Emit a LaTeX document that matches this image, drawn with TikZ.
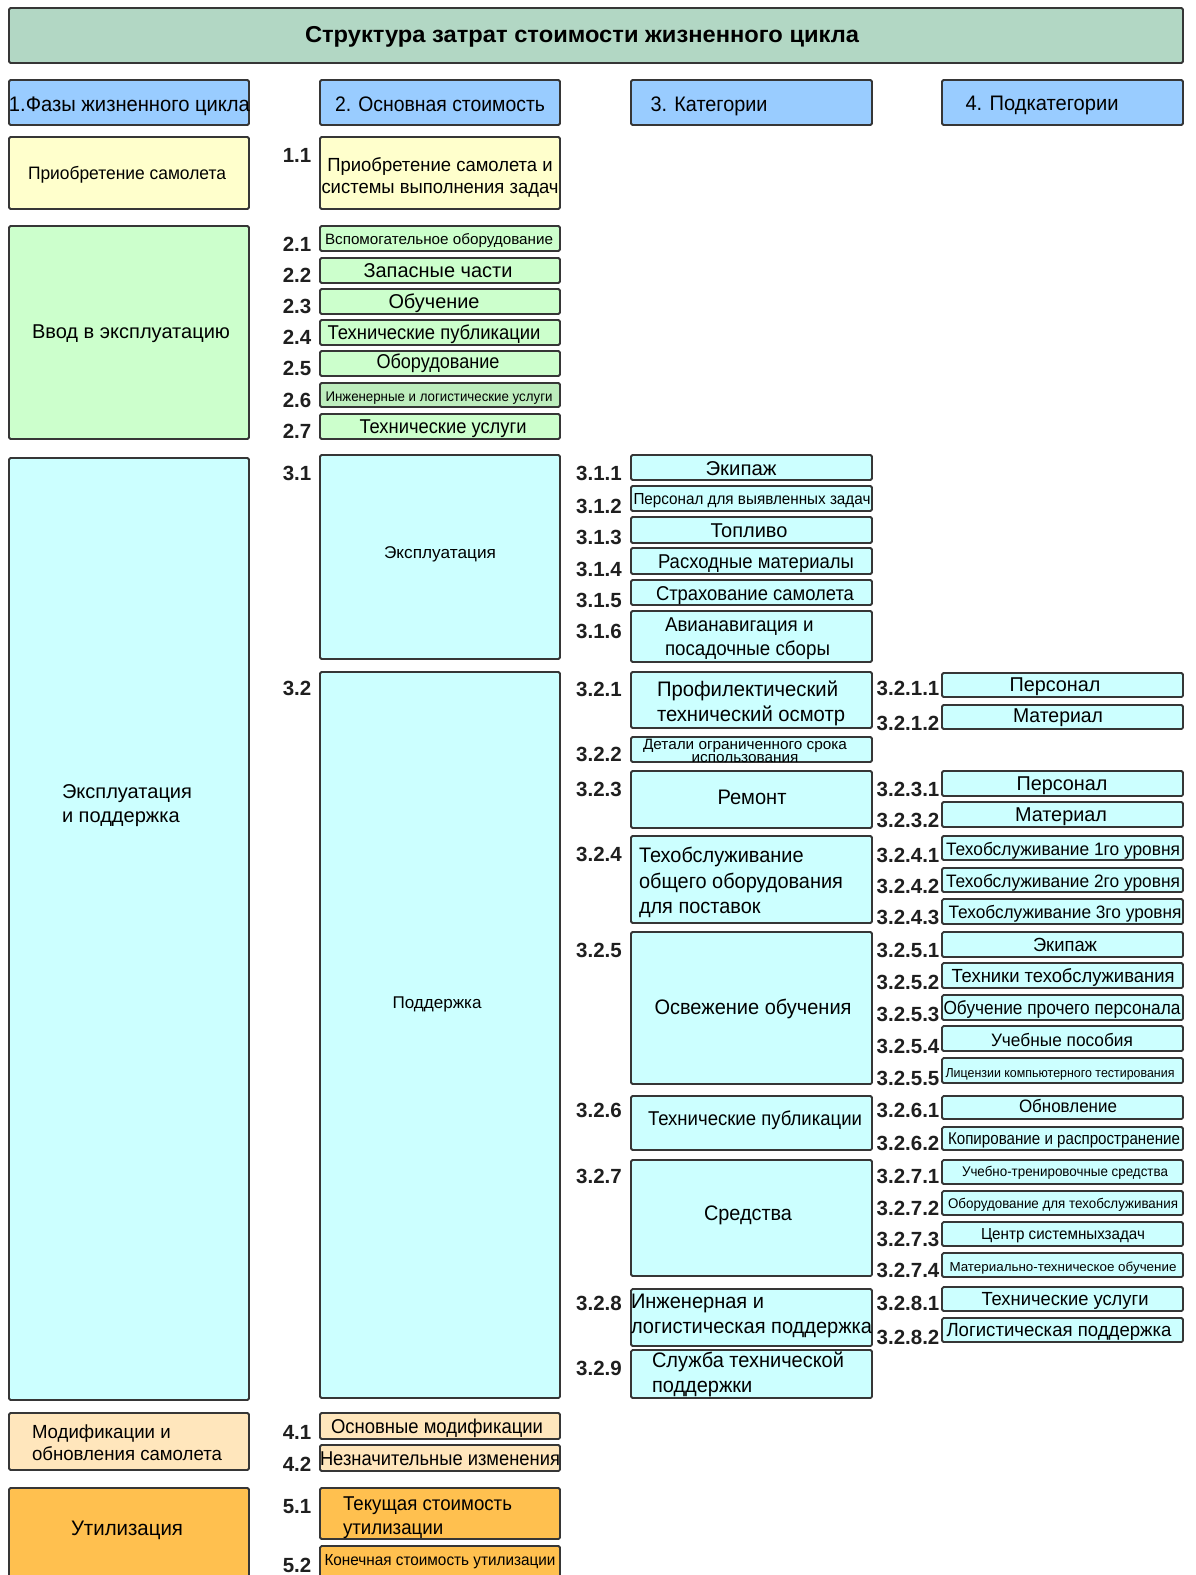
\documentclass[tikz,border=0pt]{standalone}
\usepackage{fontspec}
\setmainfont{Liberation Sans}
\usepackage{graphicx}
\definecolor{ctitle}{HTML}{B2D7C4}
\definecolor{chead}{HTML}{99CCFF}
\definecolor{cyel}{HTML}{FFFFCC}
\definecolor{cgrn}{HTML}{CCFFCC}
\definecolor{cgrnd}{HTML}{BDEDBD}
\definecolor{ccyan}{HTML}{CCFFFF}
\definecolor{cpeach}{HTML}{FFE6BC}
\definecolor{corange}{HTML}{FFC04F}
\definecolor{cline}{HTML}{363636}
\newsavebox\fwbox
% \fw[align]{target width}{font size}{text}
\newcommand\fw[4][c]{%
  \sbox\fwbox{\fontsize{#3}{\fpeval{1.2*#3}}\selectfont\begin{tabular}{@{}#1@{}}#4\end{tabular}}%
  \scalebox{\fpeval{#2/\the\wd\fwbox}}[1]{\usebox\fwbox}}
\newcommand\bx[6]{\node[box,fill=#6,anchor=north west,minimum width={(#4-#2)*1pt},minimum height={(#5-#3)*1pt}] (#1) at (#2,#3) {};}
\begin{document}
\begin{tikzpicture}[x=1pt,y=-1pt,
  box/.style={draw=cline,line width=1.8pt,rounded corners=1.5pt,inner sep=0,outer sep=0},
  tx/.style={inner sep=0,outer sep=0,text=black,yshift=-3pt},
  num/.style={inner sep=0,outer sep=0,text=black!88,yshift=-4pt,font=\bfseries\fontsize{20.5}{24}\selectfont}]
\useasboundingbox (0,0) rectangle (1195,1575);
\clip (0,0) rectangle (1195,1575);
\fill[white] (0,0) rectangle (1195,1575);
% ---------- boxes ----------
\bx{title}{9}{8}{1183}{63}{ctitle}
\bx{h1}{9}{80}{249}{125}{chead}
\bx{h2}{320}{80}{560}{125}{chead}
\bx{h3}{631}{80}{872}{125}{chead}
\bx{h4}{942}{80}{1183}{125}{chead}
\bx{p1}{9}{137}{249}{209}{cyel}
\bx{p2}{9}{226}{249}{439}{cgrn}
\bx{p3}{9}{458}{249}{1400}{ccyan}
\bx{p4}{9}{1413}{249}{1470}{cpeach}
\bx{p5}{9}{1488}{249}{1600}{corange}
\bx{c11}{320}{137}{560}{209}{cyel}
\bx{c21}{320}{226}{560}{251}{cgrn}
\bx{c22}{320}{258}{560}{283}{cgrn}
\bx{c23}{320}{289}{560}{314}{cgrn}
\bx{c24}{320}{320}{560}{345}{cgrn}
\bx{c25}{320}{351}{560}{376}{cgrn}
\bx{c26}{320}{383}{560}{407}{cgrnd}
\bx{c27}{320}{414}{560}{439}{cgrn}
\bx{c31}{320}{455}{560}{659}{ccyan}
\bx{c32}{320}{672}{560}{1398}{ccyan}
\bx{c41}{320}{1413}{560}{1439}{cpeach}
\bx{c42}{320}{1445}{560}{1471}{cpeach}
\bx{c51}{320}{1488}{560}{1539}{corange}
\bx{c52}{320}{1546}{560}{1600}{corange}
\bx{k311}{631}{455}{872}{480}{ccyan}
\bx{k312}{631}{486}{872}{511}{ccyan}
\bx{k313}{631}{517}{872}{543}{ccyan}
\bx{k314}{631}{548}{872}{574}{ccyan}
\bx{k315}{631}{580}{872}{605}{ccyan}
\bx{k316}{631}{611}{872}{662}{ccyan}
\bx{k321}{631}{672}{872}{728}{ccyan}
\bx{k322}{631}{737}{872}{762}{ccyan}
\bx{k323}{631}{771}{872}{828}{ccyan}
\bx{k324}{631}{836}{872}{923}{ccyan}
\bx{k325}{631}{932}{872}{1084}{ccyan}
\bx{k326}{631}{1096}{872}{1150}{ccyan}
\bx{k327}{631}{1160}{872}{1276}{ccyan}
\bx{k328}{631}{1289}{872}{1346}{ccyan}
\bx{k329}{631}{1350}{872}{1398}{ccyan}
\bx{s3211}{942}{673}{1183}{697}{ccyan}
\bx{s3212}{942}{705}{1183}{729}{ccyan}
\bx{s3231}{942}{771}{1183}{796}{ccyan}
\bx{s3232}{942}{802}{1183}{827}{ccyan}
\bx{s3241}{942}{836}{1183}{860}{ccyan}
\bx{s3242}{942}{868}{1183}{892}{ccyan}
\bx{s3243}{942}{899}{1183}{924}{ccyan}
\bx{s3251}{942}{932}{1183}{957}{ccyan}
\bx{s3252}{942}{963}{1183}{988}{ccyan}
\bx{s3253}{942}{995}{1183}{1020}{ccyan}
\bx{s3254}{942}{1026}{1183}{1051}{ccyan}
\bx{s3255}{942}{1058}{1183}{1083}{ccyan}
\bx{s3261}{942}{1096}{1183}{1119}{ccyan}
\bx{s3262}{942}{1127}{1183}{1150}{ccyan}
\bx{s3271}{942}{1160}{1183}{1184}{ccyan}
\bx{s3272}{942}{1191}{1183}{1215}{ccyan}
\bx{s3273}{942}{1222}{1183}{1246}{ccyan}
\bx{s3274}{942}{1253}{1183}{1277}{ccyan}
\bx{s3281}{942}{1287}{1183}{1311}{ccyan}
\bx{s3282}{942}{1318}{1183}{1342}{ccyan}
% ---------- title and headers ----------
\node[tx,font=\bfseries] (t-title) at (582,34) {\fw{554}{23}{Структура затрат стоимости жизненного цикла}};
\node[tx,anchor=west] (t-h1) at (9,103) {\fw{241}{21}{1.Фазы жизненного цикла}};
\node[tx] (t-h2) at (440,103) {\fw{210}{21}{2. Основная стоимость}};
\node[tx] (t-h3) at (709,103) {\fw{117}{21}{3. Категории}};
\node[tx] (t-h4) at (1042,102) {\fw{153}{21}{4. Подкатегории}};
% ---------- column 1 ----------
\node[tx] (t-p1) at (127,172) {\fw{198}{18}{Приобретение самолета}};
\node[tx] (t-p2) at (131,331) {\fw{198}{20}{Ввод в эксплуатацию}};
\node[tx,anchor=west] (t-p3) at (62,803) {\fw[l]{130}{20}{Эксплуатация\\и поддержка}};
\node[tx,anchor=west] (t-p4) at (32,1442) {\fw[l]{190}{19}{Модификации и\\обновления самолета}};
\node[tx] (t-p5) at (127,1527) {\fw{112}{21}{Утилизация}};
% ---------- column 2 ----------
\node[tx] (t-c11) at (440,175) {\fw{237}{19}{Приобретение самолета и\\системы выполнения задач}};
\node[tx] (t-c21) at (439,238) {\fw{228}{15}{Вспомогательное оборудование}};
\node[tx] (t-c22) at (438,270) {\fw{149}{20}{Запасные части}};
\node[tx] (t-c23) at (434,301) {\fw{91}{20}{Обучение}};
\node[tx] (t-c24) at (434,332) {\fw{213}{20}{Технические публикации}};
\node[tx] (t-c25) at (438,361) {\fw{123}{20}{Оборудование}};
\node[tx] (t-c26) at (439,395) {\fw{227}{14}{Инженерные и логистические услуги}};
\node[tx] (t-c27) at (443,426) {\fw{167}{20}{Технические услуги}};
\node[tx] (t-c31) at (440,551) {\fw{112}{17}{Эксплуатация}};
\node[tx] (t-c32) at (437,1001) {\fw{89}{17}{Поддержка}};
\node[tx] (t-c41) at (437,1426) {\fw{212}{20}{Основные модификации}};
\node[tx] (t-c42) at (440,1458) {\fw{240}{20}{Незначительные изменения}};
\node[tx,anchor=west] (t-c51) at (343,1515) {\fw[l]{169}{20}{Текущая стоимость\\утилизации}};
\node[tx] (t-c52) at (440,1559) {\fw{231}{16}{Конечная стоимость утилизации}};
% ---------- column 3 ----------
\node[tx] (t-k311) at (741,468) {\fw{71}{20}{Экипаж}};
\node[tx] (t-k312) at (752,498) {\fw{237}{16}{Персонал для выявленных задач}};
\node[tx] (t-k313) at (749,530) {\fw{77}{20}{Топливо}};
\node[tx] (t-k314) at (756,561) {\fw{196}{20}{Расходные материалы}};
\node[tx] (t-k315) at (755,593) {\fw{198}{20}{Страхование самолета}};
\node[tx,anchor=west] (t-k316) at (665,636) {\fw[l]{165}{20}{Авианавигация и\\посадочные сборы}};
\node[tx,anchor=west] (t-k321) at (657,701) {\fw[l]{188}{21}{Профилектический\\технический осмотр}};
\node[tx] (t-k322) at (745,750) {\renewcommand\arraystretch{0.7}\fw{204}{15}{Детали ограниченного срока\\использования}};
\node[tx] (t-k323) at (752,796) {\fw{69}{21}{Ремонт}};
\node[tx,anchor=west] (t-k324) at (639,880) {\fw[l]{204}{21}{Техобслуживание\\общего оборудования\\для поставок}};
\node[tx] (t-k325) at (753,1006) {\fw{197}{21}{Освежение обучения}};
\node[tx] (t-k326) at (755,1118) {\fw{214}{20}{Технические публикации}};
\node[tx] (t-k327) at (748,1212) {\fw{88}{21}{Средства}};
\node[tx,anchor=west] (t-k328) at (631,1313) {\fw[l]{241}{21}{Инженерная и\\логистическая поддержка}};
\node[tx,anchor=west] (t-k329) at (652,1372) {\fw[l]{192}{21}{Служба технической\\поддержки}};
% ---------- column 4 ----------
\node[tx] (t-s3211) at (1055,684) {\fw{91}{20}{Персонал}};
\node[tx] (t-s3212) at (1058,715) {\fw{90}{20}{Материал}};
\node[tx] (t-s3231) at (1062,783) {\fw{91}{20}{Персонал}};
\node[tx] (t-s3232) at (1061,814) {\fw{92}{20}{Материал}};
\node[tx] (t-s3241) at (1063,848) {\fw{234}{18}{Техобслуживание 1го уровня}};
\node[tx] (t-s3242) at (1063,880) {\fw{234}{18}{Техобслуживание 2го уровня}};
\node[tx] (t-s3243) at (1065,911) {\fw{233}{18}{Техобслуживание 3го уровня}};
\node[tx] (t-s3251) at (1065,944) {\fw{64}{19}{Экипаж}};
\node[tx] (t-s3252) at (1063,975) {\fw{223}{19}{Техники техобслуживания}};
\node[tx] (t-s3253) at (1062,1007) {\fw{237}{19}{Обучение прочего персонала}};
\node[tx] (t-s3254) at (1062,1039) {\fw{142}{18}{Учебные пособия}};
\node[tx] (t-s3255) at (1060,1071) {\fw{229}{13}{Лицензии компьютерного тестирования}};
\node[tx] (t-s3261) at (1068,1105) {\fw{98}{18}{Обновление}};
\node[tx] (t-s3262) at (1064,1137) {\fw{232}{17}{Копирование и распространение}};
\node[tx] (t-s3271) at (1065,1170) {\fw{206}{14}{Учебно-тренировочные средства}};
\node[tx] (t-s3272) at (1063,1202) {\fw{230}{14}{Оборудование для техобслуживания}};
\node[tx] (t-s3273) at (1063,1233) {\fw{164}{16}{Центр системныхзадач}};
\node[tx] (t-s3274) at (1063,1265) {\fw{227}{13}{Материально-техническое обучение}};
\node[tx] (t-s3281) at (1065,1298) {\fw{167}{19}{Технические услуги}};
\node[tx] (t-s3282) at (1059,1329) {\fw{225}{19}{Логистическая поддержка}};
% ---------- numbers ----------
\foreach \n/\lab/\yy in {n11/1.1/151, n21/2.1/240, n22/2.2/271, n23/2.3/302, n24/2.4/333, n25/2.5/364, n26/2.6/396, n27/2.7/427, n31/3.1/469, n32/3.2/684, n41/4.1/1428, n42/4.2/1460, n51/5.1/1503, n52/5.2/1561}
  \node[num] (\n) at (297,\yy) {\lab};
\foreach \n/\lab/\yy in {n311/3.1.1/469, n312/3.1.2/502, n313/3.1.3/533, n314/3.1.4/565, n315/3.1.5/596, n316/3.1.6/627, n321/3.2.1/685, n322/3.2.2/750, n323/3.2.3/785, n324/3.2.4/850, n325/3.2.5/946, n326/3.2.6/1106, n327/3.2.7/1172, n328/3.2.8/1299, n329/3.2.9/1364}
  \node[num] (\n) at (599,\yy) {\lab};
\foreach \n/\lab/\yy in {n3211/3.2.1.1/684, n3212/3.2.1.2/719, n3231/3.2.3.1/785, n3232/3.2.3.2/816, n3241/3.2.4.1/851, n3242/3.2.4.2/882, n3243/3.2.4.3/913, n3251/3.2.5.1/946, n3252/3.2.5.2/978, n3253/3.2.5.3/1010, n3254/3.2.5.4/1042, n3255/3.2.5.5/1074, n3261/3.2.6.1/1106, n3262/3.2.6.2/1139, n3271/3.2.7.1/1172, n3272/3.2.7.2/1204, n3273/3.2.7.3/1235, n3274/3.2.7.4/1266, n3281/3.2.8.1/1299, n3282/3.2.8.2/1333}
  \node[num] (\n) at (908,\yy) {\lab};
\end{tikzpicture}
\end{document}
